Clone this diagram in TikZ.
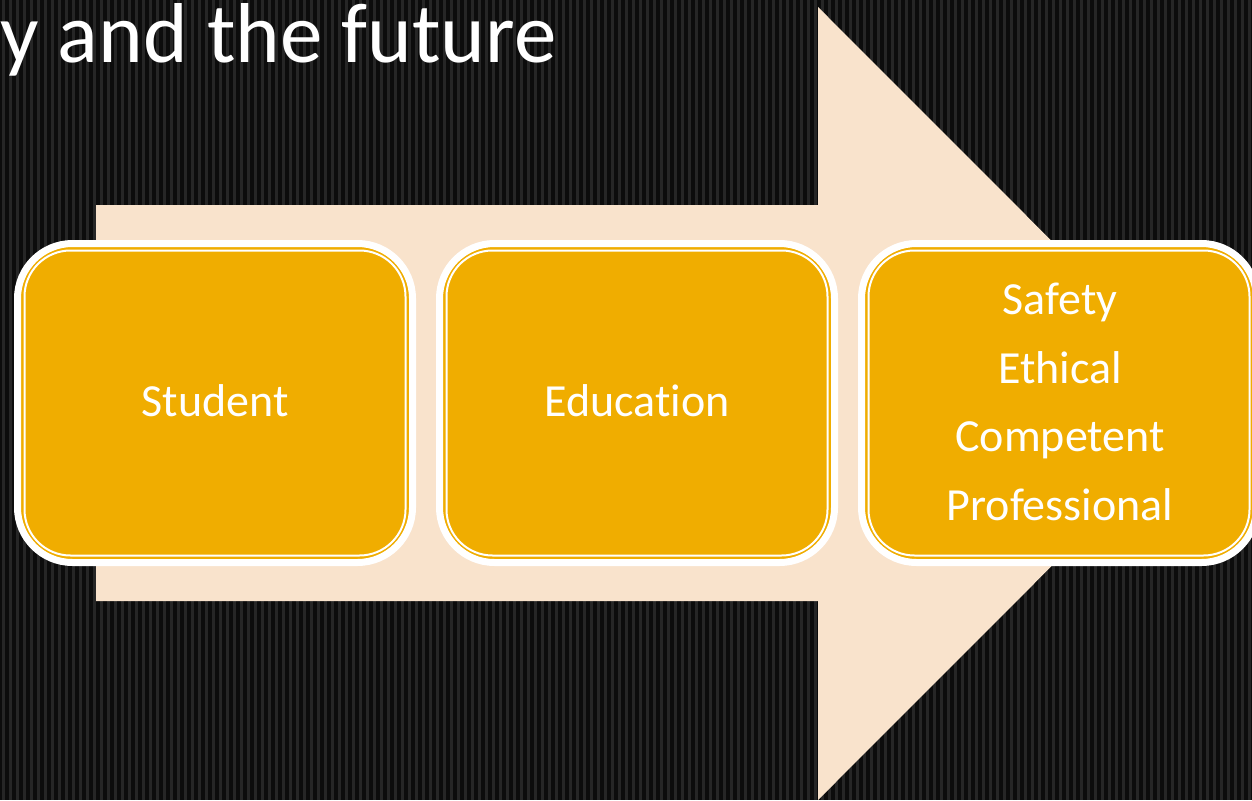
\documentclass[tikz,border=0pt]{standalone}
\usepackage{fontspec}
\setmainfont{Carlito}[Ligatures=NoCommon]
\definecolor{bgdark}{HTML}{0C0C0C}
\definecolor{bgstripe}{HTML}{262626}
\definecolor{peach}{HTML}{F9E3CC}
\definecolor{gold}{HTML}{F0AD00}
\tikzset{
  stagebox/.style={rectangle, rounded corners=55pt, fill=gold, draw=white,
    line width=7pt, minimum width=395pt, minimum height=319pt, inner sep=0pt},
  stageline/.style={rectangle, rounded corners=46pt, draw=white,
    line width=2pt, minimum width=381pt, minimum height=305pt, inner sep=0pt},
  stagetext/.style={text=white, font=\fontsize{46}{68.5}\selectfont, align=center},
  titletext/.style={text=white, font=\fontsize{85}{92}\selectfont, inner sep=0pt}
}
\begin{document}
\begin{tikzpicture}[x=1pt,y=-1pt]
  % background with fine vertical stripes
  \fill[bgdark] (0,0) rectangle (1252,800);
  \foreach \i in {0,...,178}
    \fill[bgstripe] ({7*\i+2},0) rectangle ({7*\i+4.6},800);
  \useasboundingbox (0,0) rectangle (1252,800);

  % title, running off the left edge
  \node[titletext, anchor=base west] (title) at (0,63) {y and the future};

  % large process arrow behind the boxes
  \fill[peach] (96,205) -- (818,205) -- (818,7) -- (1214,403.5)
    -- (818,800) -- (818,601) -- (96,601) -- cycle;

  % three stage boxes
  \node[stagebox] (b1) at (215,403) {};
  \node[stageline] at (b1.center) {};
  \node[stagebox] (b2) at (637,403) {};
  \node[stageline] at (b2.center) {};
  \node[stagebox] (b3) at (1059,403) {};
  \node[stageline] at (b3.center) {};

  \node[stagetext, anchor=base] (t1) at (215,416) {Student};
  \node[stagetext, anchor=base] (t2) at (637,416) {Education};
  \node[stagetext] (t3) at (1060,402) {Safety\\Ethical\\Competent\\Professional};
\end{tikzpicture}
\end{document}
